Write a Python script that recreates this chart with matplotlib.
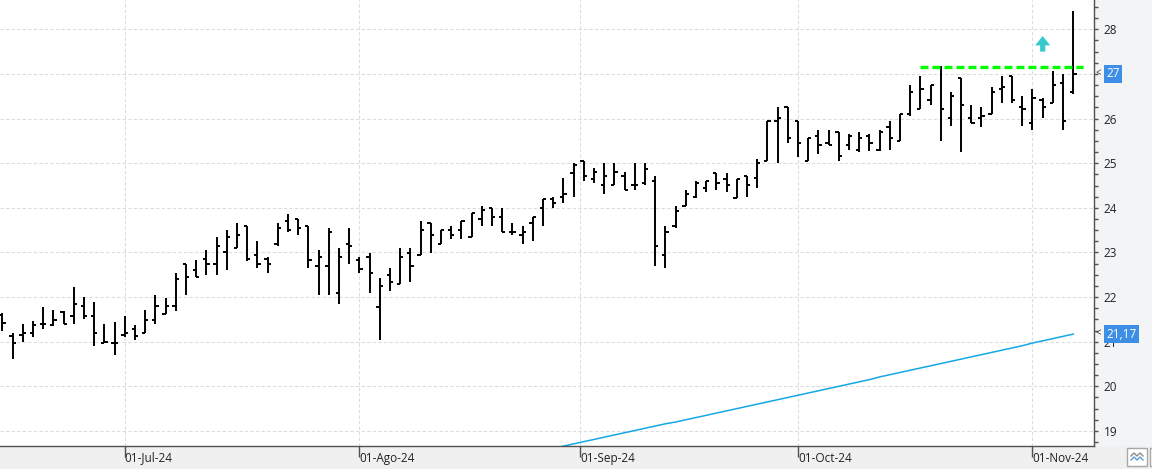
import matplotlib
matplotlib.use("Agg")
import matplotlib.pyplot as plt
import matplotlib.transforms as mtransforms
from matplotlib.patches import Rectangle
from matplotlib.ticker import MultipleLocator, FuncFormatter
import numpy as np
import pandas as pd

plt.rcParams['font.family'] = ['Open Sans', 'DejaVu Sans']

# daily bars, 13-Jun-24 .. 07-Nov-24 (trading days)
dates = pd.bdate_range('2024-06-13', '2024-11-07')

opens = [21.60, 21.13, 21.16, 21.20, 21.40, 21.37, 21.66, 21.57, 21.81, 21.57,
         20.96, 20.96, 21.16, 21.29, 21.20, 21.49, 21.61, 21.81, 22.75, 22.61,
         22.86, 22.74, 23.00, 23.10, 23.60, 22.94, 22.86, 23.19, 23.71, 23.75,
         23.60, 22.70, 22.70, 22.10, 23.19, 22.82, 22.90, 21.77, 22.50, 22.30,
         22.99, 22.94, 23.66, 23.19, 23.51, 23.51, 23.35, 23.75, 24.00, 23.80,
         23.46, 23.40, 23.66, 24.00, 24.20, 24.25, 24.77, 25.06, 24.65, 24.52,
         24.52, 24.72, 24.52, 24.56, 24.60, 22.95, 23.59, 24.04, 24.25, 24.45,
         24.77, 24.65, 24.21, 24.72, 24.66, 25.04, 25.95, 26.26, 25.95, 25.06,
         25.61, 25.46, 25.70, 25.41, 25.30, 25.61, 25.30, 25.81, 25.50, 26.11,
         26.21, 26.42, 27.13, 26.01, 26.91, 26.01, 26.01, 26.10, 26.66, 26.96,
         26.26, 25.90, 26.42, 26.34, 26.80, 26.60]
highs = [21.65, 21.20, 21.40, 21.46, 21.77, 21.70, 21.69, 22.22, 22.01, 21.90,
         21.40, 21.45, 21.57, 21.37, 21.70, 22.05, 21.97, 22.54, 22.75, 22.82,
         23.06, 23.35, 23.51, 23.66, 23.60, 23.26, 22.90, 23.66, 23.87, 23.75,
         23.60, 23.06, 23.55, 23.10, 23.55, 22.90, 22.99, 22.42, 22.66, 23.10,
         23.10, 23.71, 23.66, 23.51, 23.59, 23.71, 23.89, 24.04, 24.00, 24.00,
         23.66, 23.60, 23.80, 24.20, 24.25, 24.66, 25.01, 25.06, 24.89, 25.01,
         25.01, 24.81, 25.01, 25.01, 24.72, 23.59, 24.04, 24.40, 24.60, 24.60,
         24.77, 24.77, 24.65, 24.72, 25.10, 25.95, 26.27, 26.26, 25.95, 25.57,
         25.74, 25.74, 25.70, 25.66, 25.70, 25.66, 25.74, 25.95, 26.11, 26.76,
         26.96, 26.76, 27.17, 26.60, 26.91, 26.30, 26.26, 26.71, 26.96, 26.96,
         26.50, 26.66, 26.45, 27.07, 27.00, 28.41]
lows = [21.24, 20.62, 20.99, 21.11, 21.29, 21.35, 21.40, 21.40, 21.50, 20.90,
        20.96, 20.70, 21.11, 21.04, 21.20, 21.40, 21.61, 21.69, 22.04, 22.46,
        22.49, 22.49, 22.60, 23.10, 22.80, 22.66, 22.54, 23.14, 23.46, 23.39,
        22.65, 22.04, 22.04, 21.84, 22.74, 22.54, 22.10, 21.03, 22.14, 22.30,
        22.34, 22.94, 22.99, 23.19, 23.31, 23.31, 23.35, 23.59, 23.59, 23.46,
        23.39, 23.19, 23.25, 23.59, 24.00, 24.11, 24.25, 24.60, 24.56, 24.31,
        24.52, 24.40, 24.40, 24.52, 22.69, 22.66, 23.55, 24.04, 24.21, 24.35,
        24.40, 24.35, 24.21, 24.24, 24.44, 25.04, 25.01, 25.45, 25.15, 25.06,
        25.21, 25.41, 25.06, 25.30, 25.25, 25.27, 25.27, 25.30, 25.50, 26.05,
        26.21, 26.30, 25.49, 25.84, 25.24, 25.90, 25.80, 26.10, 26.34, 26.34,
        25.84, 25.74, 26.01, 26.34, 25.74, 26.56]
closes = [21.41, 20.96, 21.20, 21.37, 21.40, 21.49, 21.40, 21.85, 21.58, 21.20,
          20.99, 20.96, 21.20, 21.13, 21.49, 21.81, 21.81, 22.41, 22.46, 22.46,
          22.74, 23.15, 23.35, 23.40, 22.86, 22.74, 22.74, 23.55, 23.51, 23.55,
          22.82, 22.90, 23.46, 22.90, 23.15, 22.62, 22.54, 22.25, 22.34, 22.90,
          22.70, 23.51, 23.39, 23.51, 23.39, 23.71, 23.89, 23.95, 23.80, 23.46,
          23.46, 23.46, 23.80, 24.20, 24.11, 24.31, 24.97, 24.72, 24.81, 24.72,
          24.81, 24.40, 24.52, 24.86, 23.15, 23.46, 23.92, 24.31, 24.56, 24.60,
          24.56, 24.52, 24.65, 24.51, 25.01, 25.95, 26.01, 25.57, 25.46, 25.57,
          25.41, 25.41, 25.16, 25.61, 25.57, 25.46, 25.70, 25.57, 26.11, 26.59,
          26.66, 26.76, 26.21, 26.50, 26.30, 25.90, 26.06, 26.60, 26.71, 26.42,
          26.21, 26.45, 26.26, 26.75, 25.94, 27.00]

# long moving average, last 57 bars (earlier values are below the visible range)
ma_values = [18.36, 18.41, 18.46, 18.51, 18.56, 18.61, 18.66, 18.71, 18.76, 18.81,
             18.86, 18.91, 18.96, 19.01, 19.06, 19.11, 19.16, 19.20, 19.25, 19.30,
             19.35, 19.40, 19.45, 19.50, 19.55, 19.60, 19.65, 19.70, 19.75, 19.80,
             19.85, 19.90, 19.95, 20.00, 20.05, 20.10, 20.15, 20.21, 20.26, 20.31,
             20.36, 20.41, 20.46, 20.51, 20.56, 20.61, 20.66, 20.71, 20.76, 20.81,
             20.86, 20.91, 20.97, 21.02, 21.07, 21.12, 21.17]

# resistance line and breakout signal
res_level = 27.15
res_from = 90
signal_bar = 102
signal_lo, signal_hi = 27.50, 27.85

month_starts = pd.to_datetime(['2024-07-01', '2024-08-01', '2024-09-01',
                               '2024-10-01', '2024-11-01'])
month_labels = ['01-Jul-24', '01-Ago-24', '01-Sep-24', '01-Oct-24', '01-Nov-24']

n = len(dates)
x = np.arange(n)

fig = plt.figure(figsize=(11.52, 4.69), dpi=100)
fig.patch.set_facecolor('#f0f0f0')
# right price panel
fig.add_artist(Rectangle((1094 / 1152, 23 / 469), 58 / 1152, 446 / 469,
                         transform=fig.transFigure, facecolor='#f3f4f6',
                         edgecolor='none', zorder=0))

ax = fig.add_axes([0, 23 / 469, 1094 / 1152, 446 / 469])
ax.set_facecolor('white')

# OHLC bars
ax.vlines(x, lows, highs, color='black', lw=1.4, zorder=3)
ax.hlines(opens, x - 0.32, x, color='black', lw=1.4, zorder=3)
ax.hlines(closes, x, x + 0.32, color='black', lw=1.4, zorder=3)

ax.plot(x[n - len(ma_values):], ma_values, color='#14a8e6', lw=1.1, zorder=2)

ax.hlines(res_level, res_from, n, color='#00ff00', lw=2.4,
          linestyles=(0, (2.4, 1.2)), zorder=4)

ax.arrow(signal_bar, signal_lo, 0, signal_hi - signal_lo, width=0.5,
         head_width=1.47, head_length=0.21, length_includes_head=True,
         color='#36c9cc', lw=0, zorder=4)

ax.set_xlim(-0.23, 107.03)
ax.set_ylim(18.663, 28.657)

# month ticks placed between trading days by calendar date
month_pos = np.interp(month_starts.map(pd.Timestamp.toordinal),
                      dates.map(pd.Timestamp.toordinal), x)
ax.set_xticks(month_pos)
ax.set_xticklabels(month_labels, ha='left')
offset = mtransforms.ScaledTranslation(2 / 100, 0, fig.dpi_scale_trans)
for lab in ax.get_xticklabels():
    lab.set_transform(lab.get_transform() + offset)
ax.tick_params(axis='x', length=8, width=1, color='#505050', pad=-4,
               labelsize=8.5, labelcolor='#222222')

# the last price box sits on top of its own tick label, so skip that one
last_label = round(closes[-1])
ax.yaxis.tick_right()
ax.yaxis.set_major_locator(MultipleLocator(1))
ax.yaxis.set_minor_locator(MultipleLocator(0.25))
ax.yaxis.set_major_formatter(FuncFormatter(
    lambda v, pos: '' if round(v) == last_label else '%d' % round(v)))
ax.tick_params(axis='y', which='major', length=3, width=1, color='#505050',
               pad=4, labelsize=8.5, labelcolor='#222222')
ax.tick_params(axis='y', which='minor', length=3, width=1, color='#505050')

ax.grid(True, which='major', color='#dcdcdc', linestyle=(0, (3, 2)), lw=0.8)
ax.set_axisbelow(True)

for s in ['top', 'left']:
    ax.spines[s].set_visible(False)
for s in ['bottom', 'right']:
    ax.spines[s].set_color('#505050')
    ax.spines[s].set_linewidth(1)

# price labels on the right axis
for val, txt in [(closes[-1], '27'), (ma_values[-1], '21,17')]:
    ax.annotate(txt, xy=(1, val), xycoords=('axes fraction', 'data'),
                xytext=(9, 0), textcoords='offset points', va='center', ha='left',
                color='white', fontsize=8.5, zorder=6, annotation_clip=False,
                bbox=dict(boxstyle='square,pad=0.18', facecolor='#3d8ee4',
                          edgecolor='none'))
    ax.annotate('<', xy=(1, val), xycoords=('axes fraction', 'data'),
                xytext=(1, 0), textcoords='offset points', va='center', ha='left',
                color='#333333', fontsize=7, zorder=6, annotation_clip=False)

# small toolbar buttons bottom right
fig.add_artist(Rectangle((1127 / 1152, 3 / 469), 20 / 1152, 18 / 469,
                         transform=fig.transFigure, facecolor='white',
                         edgecolor='#a8a8a8', lw=1))
fig.add_artist(Rectangle((1150 / 1152, 3 / 469), 4 / 1152, 18 / 469,
                         transform=fig.transFigure, facecolor='white',
                         edgecolor='#a8a8a8', lw=1))
zx = np.array([1131, 1134, 1137, 1140, 1143]) / 1152
for base, col in [(13, '#8a8a8a'), (9, '#5a9bd5')]:
    zy = (base + np.array([0, 3, 0, 3, 0])) / 469
    fig.add_artist(plt.Line2D(zx, zy, transform=fig.transFigure, color=col, lw=1))

fig.savefig('out.png', dpi=100, facecolor=fig.get_facecolor())
